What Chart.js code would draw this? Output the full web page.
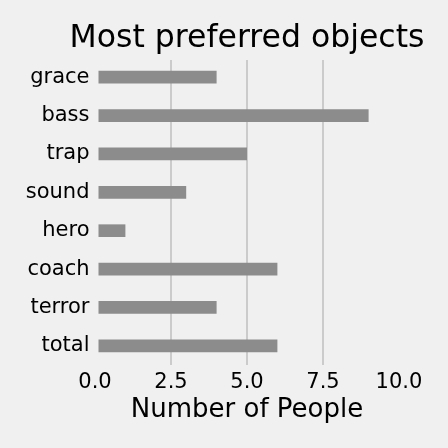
<!DOCTYPE html>
<html>
<head>
<meta charset="utf-8">
<script src="https://cdn.jsdelivr.net/npm/chart.js@4/dist/chart.umd.min.js"></script>
<style>
  html, body { margin: 0; padding: 0; background: #f0f0f0; }
  #wrap { width: 448px; height: 448px; }
</style>
</head>
<body>
<div id="wrap"><canvas id="chart" width="448" height="448"></canvas></div>
<script>
// data
const objectNames = ['grace', 'bass', 'trap', 'sound', 'hero', 'coach', 'terror', 'total'];
const peopleCounts = [4, 9, 5, 3, 1, 6, 4, 6];
const xTickStep = 2.5;
const xMax = 10;

const chartTitle = 'Most preferred objects';
const xAxisTitle = 'Number of People';

const bg = '#f0f0f0';
const fontFamily = "'DejaVu Sans', sans-serif";

// spines the same colour as the background, drawn over the bars (like the original)
const spineCover = {
  id: 'spineCover',
  afterDatasetsDraw(chart) {
    const { ctx, chartArea } = chart;
    ctx.save();
    ctx.strokeStyle = bg;
    ctx.lineWidth = 7;
    ctx.beginPath();
    ctx.moveTo(chartArea.left, chartArea.top);
    ctx.lineTo(chartArea.left, chartArea.bottom);
    ctx.moveTo(chartArea.right, chartArea.top);
    ctx.lineTo(chartArea.right, chartArea.bottom);
    ctx.stroke();
    ctx.lineWidth = 4;
    ctx.beginPath();
    ctx.moveTo(chartArea.left, chartArea.top);
    ctx.lineTo(chartArea.right, chartArea.top);
    ctx.stroke();
    ctx.restore();
  },
};

// title centred over the plot area, allowed to be wider than it
const plotTitle = {
  id: 'plotTitle',
  afterDraw(chart) {
    const { ctx, chartArea } = chart;
    ctx.save();
    ctx.font = `31.5px ${fontFamily}`;
    ctx.fillStyle = '#000';
    ctx.textAlign = 'center';
    ctx.textBaseline = 'alphabetic';
    ctx.fillText(chartTitle, (chartArea.left + chartArea.right) / 2, chartArea.top - 11);
    ctx.restore();
  },
};

new Chart(document.getElementById('chart').getContext('2d'), {
  type: 'bar',
  data: {
    labels: objectNames,
    datasets: [
      {
        data: peopleCounts,
        backgroundColor: '#8c8c8c',
        borderWidth: 0,
        categoryPercentage: 1,
        barPercentage: 0.33,
      },
    ],
  },
  options: {
    indexAxis: 'y',
    responsive: false,
    animation: false,
    layout: { padding: { left: 0, right: 49, top: 58, bottom: 0 } },
    plugins: {
      legend: { display: false },
      tooltip: { enabled: false },
      title: { display: false },
    },
    scales: {
      x: {
        min: 0,
        max: xMax,
        afterFit(scale) {
          scale.height = 83;
        },
        ticks: {
          stepSize: xTickStep,
          padding: 4.5,
          color: '#000',
          font: { family: fontFamily, size: 21 },
          callback: (v) => Number(v).toFixed(1),
        },
        grid: { color: '#cbcbcb', lineWidth: 2, drawTicks: false },
        border: { display: false },
        title: {
          display: true,
          text: xAxisTitle,
          color: '#000',
          font: { family: fontFamily, size: 26 },
          padding: { top: 0, bottom: 22 },
        },
      },
      y: {
        afterFit(scale) {
          scale.width = 95;
        },
        ticks: {
          padding: 5.5,
          color: '#000',
          font: { family: fontFamily, size: 21 },
        },
        grid: { display: false, drawTicks: false },
        border: { display: false },
      },
    },
  },
  plugins: [spineCover, plotTitle],
});
</script>
</body>
</html>
